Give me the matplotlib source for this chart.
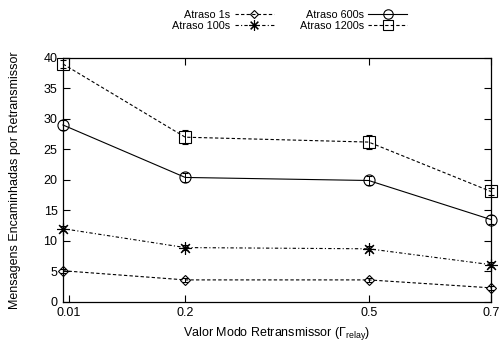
import matplotlib
matplotlib.use("Agg")
import matplotlib.pyplot as plt
from matplotlib.lines import Line2D

plt.rcParams['font.family'] = ['Liberation Sans', 'DejaVu Sans']
plt.rcParams['mathtext.fontset'] = 'custom'
plt.rcParams['mathtext.rm'] = 'Liberation Sans'
plt.rcParams['mathtext.it'] = 'Liberation Sans'

# data (first point sits on the left edge)
x_pos = [0.0, 0.2, 0.5, 0.7]
tick_pos = [0.01, 0.2, 0.5, 0.7]
tick_labels = ['0.01', '0.2', '0.5', '0.7']

atraso_1s = [5.1, 3.6, 3.6, 2.3]
atraso_100s = [12.0, 8.9, 8.7, 6.1]
atraso_600s = [29.0, 20.4, 19.9, 13.5]
atraso_1200s = [39.0, 27.0, 26.2, 18.1]

err_1s = [0.3, 0.3, 0.3, 0.3]
err_100s = [0.4, 0.4, 0.4, 0.4]
err_600s = [0.8, 0.8, 0.8, 0.8]
err_1200s = [0.6, 1.1, 1.1, 0.6]

series = [
    ('Atraso 1s', atraso_1s, err_1s, 'D', (0, (3, 2)), 5),
    ('Atraso 100s', atraso_100s, err_100s, (8, 2, 0), (0, (3, 2, 1, 2)), 9),
    ('Atraso 600s', atraso_600s, err_600s, 'o', '-', 8),
    ('Atraso 1200s', atraso_1200s, err_1200s, 's', (0, (3, 2)), 8),
]

fig = plt.figure(figsize=(5.04, 3.51), dpi=100)
ax = fig.add_axes([0.125, 0.14, 0.849, 0.695])

handles = []
for label, vals, errs, mk, ls, ms in series:
    ax.errorbar(x_pos, vals, yerr=errs, color='black', lw=0.8, ls=ls,
                marker=mk, ms=ms, mfc='none', mec='black', mew=0.8,
                ecolor='black', elinewidth=0.7, capsize=2, capthick=0.7,
                clip_on=False, zorder=3)
    handles.append(Line2D([], [], color='black', lw=0.8, ls=ls, marker=mk,
                          ms=ms * 0.85, mfc='none', mec='black', mew=0.8,
                          label=label))

ax.set_xlim(0, 0.7)
ax.set_ylim(0, 40)
ax.set_xticks(tick_pos)
ax.set_xticklabels(tick_labels)
ax.set_yticks(range(0, 41, 5))
ax.tick_params(direction='in', top=True, right=True, length=5, width=0.8,
               labelsize=9, pad=4)
for sp in ax.spines.values():
    sp.set_linewidth(0.9)

ax.set_xlabel(r'Valor Modo Retransmissor ($\Gamma_{\mathrm{relay}}$)', fontsize=9)
ax.set_ylabel('Mensagens Encaminhadas por Retransmissor', fontsize=9,
              labelpad=16)

leg = fig.legend(handles=handles, loc='upper center',
                 bbox_to_anchor=(0.575, 1.0), ncol=2, frameon=False,
                 markerfirst=False, fontsize=7.8, handlelength=3.6,
                 columnspacing=2.4, labelspacing=0.1, handletextpad=0.4)

fig.savefig('out.png', dpi=100)
